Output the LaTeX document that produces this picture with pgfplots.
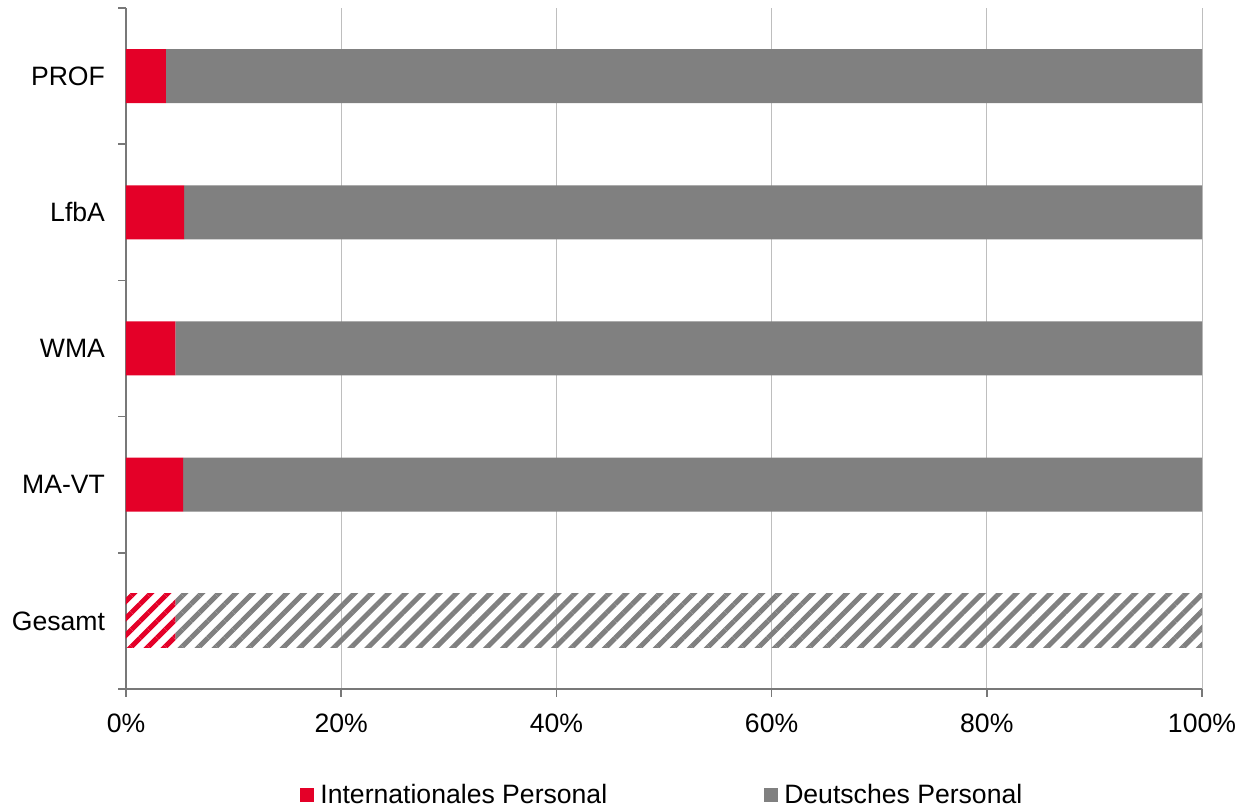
\documentclass[border=0pt]{standalone}
\usepackage{fontspec}
\setmainfont{Liberation Sans}
\usepackage{pgfplots}
\pgfplotsset{compat=1.18}
\usetikzlibrary{patterns.meta}
\definecolor{myred}{RGB}{228,0,40}
\definecolor{mygray}{RGB}{128,128,128}
\definecolor{axgray}{RGB}{120,120,120}
\definecolor{gridgray}{RGB}{190,190,190}
\begin{document}
\begin{tikzpicture}
\begin{axis}[
  name=ax,
  scale only axis,
  width=538pt, height=340.5pt,
  xbar stacked,
  bar width=27pt,
  xmin=0, xmax=100,
  ymin=-0.5, ymax=4.5,
  xtick={0,20,40,60,80,100},
  xticklabel={\pgfmathprintnumber{\tick}\%},
  ytick={-0.5,0.5,1.5,2.5,3.5,4.5},
  yticklabels={},
  extra y ticks={0,1,2,3,4},
  extra y tick labels={Gesamt,MA-VT,WMA,LfbA,PROF},
  extra y tick style={major tick length=0pt, yticklabel style={xshift=-7pt}},
  /pgf/number format/assume math mode=true,
  tick label style={font=\fontsize{13.3}{16}\selectfont},
  axis x line*=bottom,
  axis y line*=left,
  axis line style={draw=axgray, line width=0.8pt},
  xmajorgrids,
  major grid style={draw=gridgray, line width=0.5pt},
  tick style={draw=axgray, line width=0.8pt},
  major tick length=4pt,
  tick align=outside,
  xticklabel style={yshift=-5pt},
  legend columns=2,
  legend style={at={(0.1617,-0.1557)}, anchor=west, draw=none, fill=none,
    inner sep=0pt, font=\fontsize{13.3}{16}\selectfont,
    nodes={inner xsep=3pt, inner ysep=0pt},
    /tikz/every even column/.append style={column sep=75.5pt}},
  legend image code/.code={\fill[#1] (0pt,-3.5pt) rectangle (7pt,3.5pt);},
  clip=false,
]
\addplot[fill=myred, draw=none] coordinates {(0,0) (5.3,1) (4.6,2) (5.4,3) (3.7,4)};
\addlegendentry{Internationales Personal}
\addplot[pattern={Lines[angle=45,distance=6pt,line width=2.5pt]}, pattern color=myred, draw=none, forget plot] coordinates {(4.6,0) (0,1) (0,2) (0,3) (0,4)};
\addplot[fill=mygray, draw=none] coordinates {(0,0) (94.7,1) (95.4,2) (94.6,3) (96.3,4)};
\addlegendentry{Deutsches Personal}
\addplot[pattern={Lines[angle=45,distance=6pt,line width=2.5pt]}, pattern color=mygray, draw=none, forget plot] coordinates {(95.4,0) (0,1) (0,2) (0,3) (0,4)};
\end{axis}
\path (ax.south west) ++(-63pt,-61.5pt) rectangle ++(626.5pt,406pt);
\end{tikzpicture}
\end{document}
